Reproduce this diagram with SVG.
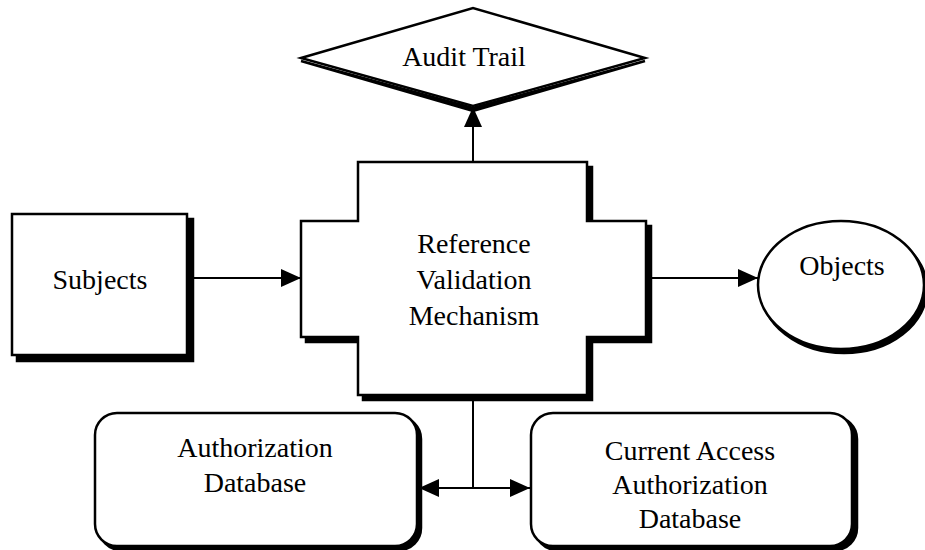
<svg xmlns="http://www.w3.org/2000/svg" width="925" height="550" viewBox="0 0 925 550">
  <style>
    .shape { fill: #ffffff; stroke: #000000; stroke-width: 2.5; stroke-linejoin: miter; }
    .shadow { fill: #000000; stroke: #000000; stroke-width: 2.5; }
    .label { font-family: "Liberation Serif", "Times New Roman", serif; font-size: 28px; fill: #000000; text-anchor: middle; }
    .wire { fill: none; stroke: #000000; stroke-width: 2; }
  </style>
  <defs>
    <marker id="arrow" viewBox="0 0 20 18" refX="20" refY="9" markerWidth="20" markerHeight="18" markerUnits="userSpaceOnUse" orient="auto-start-reverse">
      <path d="M0,0 L20,9 L0,18 Z" fill="#000000"/>
    </marker>
  </defs>
  <rect width="925" height="550" fill="#ffffff"/>

  <!-- connectors -->
  <g id="connectors">
    <line class="wire" x1="188" y1="278" x2="301" y2="278" marker-end="url(#arrow)"/>
    <line class="wire" x1="473" y1="162" x2="473" y2="107" marker-end="url(#arrow)"/>
    <line class="wire" x1="646" y1="278" x2="758" y2="278" marker-end="url(#arrow)"/>
    <line class="wire" x1="473" y1="397" x2="473" y2="488"/>
    <line class="wire" x1="419" y1="488" x2="530" y2="488" marker-start="url(#arrow)" marker-end="url(#arrow)"/>
  </g>

  <!-- audit trail diamond -->
  <g id="audit-trail">
    <path class="shadow" d="M301,61 L473,111 L645,61 L473,108 Z"/>
    <path class="shape" d="M301,58 L473,8 L645,58 L473,106 Z"/>
    <text class="label" x="464" y="66">Audit Trail</text>
  </g>

  <!-- subjects box -->
  <g id="subjects">
    <rect class="shadow" x="17" y="219" width="176" height="142"/>
    <rect class="shape" x="12" y="214" width="175" height="141"/>
    <text class="label" x="100" y="289">Subjects</text>
  </g>

  <!-- reference validation mechanism -->
  <g id="mechanism">
    <path class="shadow" d="M363,167 H592 V226 H651 V342 H592 V400 H363 V342 H306 V226 H363 Z"/>
    <path class="shape" d="M358,162 H587 V221 H646 V337 H587 V395 H358 V337 H301 V221 H358 Z"/>
    <text class="label" x="474" y="253">Reference</text>
    <text class="label" x="474" y="289">Validation</text>
    <text class="label" x="474" y="325">Mechanism</text>
  </g>

  <!-- objects ellipse -->
  <g id="objects">
    <ellipse class="shadow" cx="844" cy="289" rx="83" ry="64"/>
    <ellipse class="shape" cx="841" cy="285" rx="83" ry="64"/>
    <text class="label" x="842" y="275">Objects</text>
  </g>

  <!-- authorization database -->
  <g id="authorization-db">
    <rect class="shadow" x="99" y="417" width="322" height="133" rx="22" ry="22"/>
    <rect class="shape" x="95" y="413" width="322" height="133" rx="22" ry="22"/>
    <text class="label" x="255" y="457">Authorization</text>
    <text class="label" x="255" y="492">Database</text>
  </g>

  <!-- current access authorization database -->
  <g id="current-access-db">
    <rect class="shadow" x="535" y="417" width="322" height="133" rx="22" ry="22"/>
    <rect class="shape" x="531" y="413" width="321" height="133" rx="22" ry="22"/>
    <text class="label" x="690" y="460">Current Access</text>
    <text class="label" x="690" y="494">Authorization</text>
    <text class="label" x="690" y="528">Database</text>
  </g>
</svg>
